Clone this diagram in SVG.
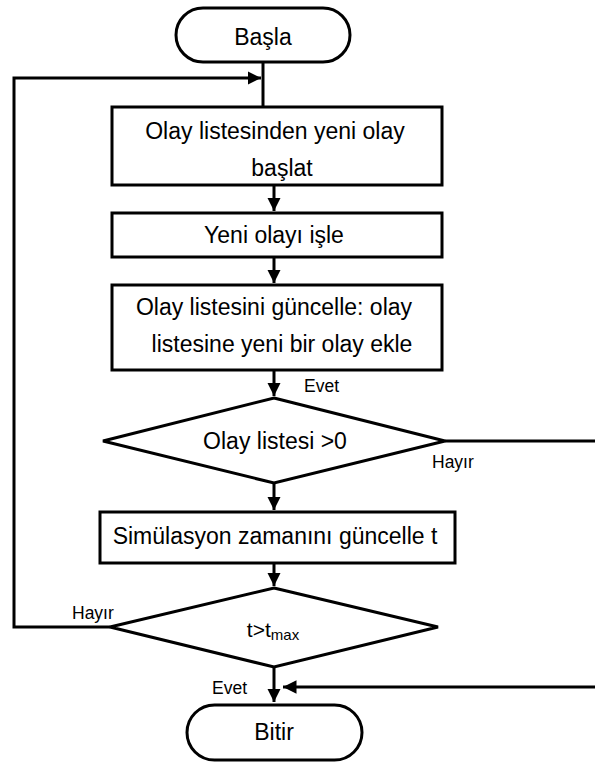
<svg xmlns="http://www.w3.org/2000/svg" width="595" height="763" viewBox="0 0 595 763">
  <style>
    .shape { fill: #fff; stroke: #000; stroke-width: 3; }
    .line { fill: none; stroke: #000; stroke-width: 3; }
    .t { font-family: "Liberation Sans", Arial, sans-serif; font-size: 23px; fill: #000; text-anchor: middle; dominant-baseline: central; }
    .lbl { font-family: "Liberation Sans", Arial, sans-serif; font-size: 17.5px; fill: #000; dominant-baseline: central; }
  </style>
  <defs>
    <marker id="arrow" viewBox="0 0 10 10" refX="10" refY="5" markerWidth="4.5" markerHeight="4.5" orient="auto" markerUnits="strokeWidth">
      <path d="M0,0 L10,5 L0,10 Z" fill="#000"/>
    </marker>
  </defs>

  <rect width="595" height="763" fill="#fff"/>

  <g id="connectors">
    <line class="line" x1="263" y1="62" x2="263" y2="107"/>
    <line class="line" x1="274" y1="185" x2="274" y2="211" marker-end="url(#arrow)"/>
    <line class="line" x1="274" y1="257" x2="274" y2="283" marker-end="url(#arrow)"/>
    <line class="line" x1="274" y1="370" x2="274" y2="396" marker-end="url(#arrow)"/>
    <line class="line" x1="274" y1="483" x2="274" y2="510" marker-end="url(#arrow)"/>
    <line class="line" x1="274" y1="563" x2="274" y2="586" marker-end="url(#arrow)"/>
    <line class="line" x1="274" y1="667" x2="274" y2="702" marker-end="url(#arrow)"/>
    <!-- loop back from t>tmax (Hayır) to the top -->
    <polyline class="line" points="110,627 14,627 14,78 261,78" marker-end="url(#arrow)"/>
    <!-- Olay listesi >0 (Hayır) to end -->
    <line class="line" x1="445" y1="441" x2="596" y2="441"/>
    <line class="line" x1="596" y1="687" x2="283" y2="687" marker-end="url(#arrow)"/>
    <text class="lbl" x="304" y="386">Evet</text>
    <text class="lbl" x="432" y="462">Hayır</text>
    <text class="lbl" x="72" y="613">Hayır</text>
    <text class="lbl" x="212" y="688">Evet</text>
  </g>

  <g id="start">
    <rect class="shape" x="176" y="8" width="174" height="54" rx="27"/>
    <text class="t" x="263" y="37">Başla</text>
  </g>

  <g id="fetch-event">
    <rect class="shape" x="112" y="107" width="330" height="78"/>
    <text class="t" x="275" y="131">Olay listesinden yeni olay</text>
    <text class="t" x="282" y="168">başlat</text>
  </g>

  <g id="process-event">
    <rect class="shape" x="112" y="213" width="330" height="44"/>
    <text class="t" x="274" y="235">Yeni olayı işle</text>
  </g>

  <g id="update-list">
    <rect class="shape" x="112" y="285" width="330" height="85"/>
    <text class="t" x="274" y="307">Olay listesini güncelle: olay</text>
    <text class="t" x="282" y="344">listesine yeni bir olay ekle</text>
  </g>

  <g id="list-check">
    <polygon class="shape" points="274,398 445,441 274,483 103,441"/>
    <text class="t" x="275" y="441">Olay listesi &gt;0</text>
  </g>

  <g id="update-time">
    <rect class="shape" x="100" y="512" width="355" height="51"/>
    <text class="t" x="275" y="536">Simülasyon zamanını güncelle t</text>
  </g>

  <g id="time-check">
    <polygon class="shape" points="274,588 438,627 274,667 110,627"/>
    <text class="t" x="273" y="629" style="font-size:21px">t&gt;t<tspan font-size="15" dy="5">max</tspan></text>
  </g>

  <g id="end">
    <rect class="shape" x="187" y="705" width="175" height="55" rx="27.5"/>
    <text class="t" x="274" y="732">Bitir</text>
  </g>
</svg>
